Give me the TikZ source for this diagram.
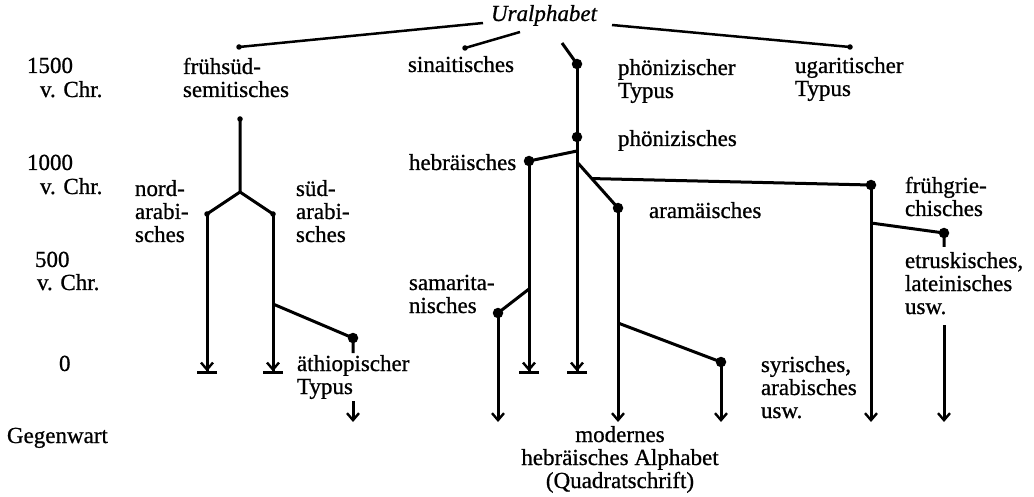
\documentclass[tikz,border=0pt]{standalone}
\usepackage{fontspec}
\setmainfont{Liberation Serif}[FakeBold=0.8]
\usetikzlibrary{arrows.meta,calc}

\begin{document}
\begin{tikzpicture}[x=1pt,y=-1pt,
  every node/.style={inner sep=0pt, outer sep=0pt, font=\fontsize{23}{23}\selectfont},
  % multi-line labels are placed by the baseline of their last line
  lbl/.style={anchor=base west, align=left},
  link/.style={line width=3pt},
  toplink/.style={line width=2.5pt},
  toend/.style={link, -{Straight Barb[length=7pt,width=12pt,line width=2.4pt]}},
  tobar/.style={link, -{Straight Barb[length=7pt,width=12pt,line width=2.4pt]Bar[width=20pt,line width=2.6pt]}},
  bigdot/.style={fill, circle, minimum size=10.5pt, inner sep=0pt},
  smalldot/.style={fill, circle, minimum size=5.5pt, inner sep=0pt}]
\useasboundingbox (0,0) rectangle (1034,497);

% time axis
\node[lbl] (t1500) at (27,73) {1500};
\node[lbl] (c1500) at (40,97) {v. Chr.};
\node[lbl] (t1000) at (27,170) {1000};
\node[lbl] (c1000) at (40,194) {v. Chr.};
\node[lbl] (t500)  at (35,267) {500};
\node[lbl] (c500)  at (37,290) {v. Chr.};
\node[lbl] (t0)    at (59,371) {0};
\node[lbl] (tnow)  at (7,443) {Gegenwart};

% labels of the scripts
\node[anchor=base, font=\fontsize{23}{23}\selectfont\itshape] (ur) at (544,21) {Uralphabet};
\node[lbl] (lfs) at (183,97) {frühsüd-\\semitisches};
\node[lbl] (lsi) at (408,72) {sinaitisches};
\node[lbl] (lpt) at (618,98) {phönizischer\\Typus};
\node[lbl] (lug) at (795,96) {ugaritischer\\Typus};
\node[lbl] (lph) at (618,146) {phönizisches};
\node[lbl] (lhe) at (409,170) {hebräisches};
\node[lbl] (lar) at (649,218) {aramäisches};
\node[lbl] (lsa) at (409,313) {samarita-\\nisches};
\node[lbl] (lna) at (135,242) {nord-\\arabi-\\sches};
\node[lbl] (lsu) at (296,242) {süd-\\arabi-\\sches};
\node[lbl] (lae) at (297,394) {äthiopischer\\Typus};
\node[lbl] (lsy) at (761,418) {syrisches,\\arabisches\\usw.};
\node[lbl] (lgr) at (905,216) {frühgrie-\\chisches};
\node[lbl] (let) at (905,314) {etruskisches,\\lateinisches\\usw.};
\node[anchor=base, align=center] (lmo) at (620,488) {modernes\\hebräisches Alphabet\\(Quadratschrift)};

% branch points and ends
\coordinate (u1) at (483,23);
\coordinate (u2) at (520,32);
\coordinate (u3) at (562,43);
\coordinate (u4) at (612,25);
\node[smalldot] (fs) at (239,47) {};
\node[smalldot] (si) at (465,48) {};
\node[bigdot]   (ph) at (577,64) {};
\node[smalldot] (ug) at (850,47) {};

\node[smalldot] (sa) at (240,119) {};
\coordinate (sfork) at (240,192);
\node[smalldot] (na) at (207,214) {};
\node[smalldot] (su) at (273,214) {};
\coordinate (naend) at (207,374);
\coordinate (suend) at (273,374);
\coordinate (aebr) at (273,304);
\node[bigdot] (ae) at (353,338) {};
\coordinate (aestub) at (353,353);
\coordinate (aeup) at (353,401);
\coordinate (aedown) at (353,422);

\node[bigdot] (phd) at (577,137) {};
\coordinate (phend) at (577,374);
\coordinate (hebr) at (577,151);
\node[bigdot] (he) at (529,161) {};
\coordinate (heend) at (529,374);
\coordinate (sabr) at (529,289);
\node[bigdot] (sm) at (498,313) {};
\coordinate (smend) at (498,422);
\coordinate (arbr) at (577,162);
\node[bigdot] (ar) at (618,208) {};
\coordinate (arend) at (618,422);
\coordinate (grbr) at ($(arbr)!0.36!(ar)$);
\coordinate (sybr) at (618,323);
\node[bigdot] (sy) at (721,362) {};
\coordinate (syend) at (721,422);
\node[bigdot] (gr) at (871,185) {};
\coordinate (grend) at (871,422);
\coordinate (etbr) at (871,223);
\node[bigdot] (et) at (944,233) {};
\coordinate (etstub) at (944,247);
\coordinate (etup) at (944,325);
\coordinate (etdown) at (944,422);

% from the Uralphabet
\draw[toplink] (u1) -- (fs.center);
\draw[toplink] (u2) -- (si.center);
\draw[link] (u3) -- (ph.center);
\draw[toplink] (u4) -- (ug.center);

% South Semitic branch
\draw[link] (sa.center) -- (sfork) -- (na.center);
\draw[link] (sfork) -- (su.center);
\draw[tobar] (na.center) -- (naend);
\draw[tobar] (su.center) -- (suend);
\draw[link] (aebr) -- (ae.center) -- (aestub);
\draw[toend] (aeup) -- (aedown);

% Phoenician branch
\draw[link] (ph.center) -- (phd.center);
\draw[tobar] (phd.center) -- (phend);
\draw[link] (hebr) -- (he.center);
\draw[tobar] (he.center) -- (heend);
\draw[link] (sabr) -- (sm.center);
\draw[toend] (sm.center) -- (smend);
\draw[link] (arbr) -- (ar.center);
\draw[toend] (ar.center) -- (arend);
\draw[link] (sybr) -- (sy.center);
\draw[toend] (sy.center) -- (syend);
\draw[link] (grbr) -- (gr.center);
\draw[toend] (gr.center) -- (grend);
\draw[link] (etbr) -- (et.center) -- (etstub);
\draw[toend] (etup) -- (etdown);
\end{tikzpicture}
\end{document}
